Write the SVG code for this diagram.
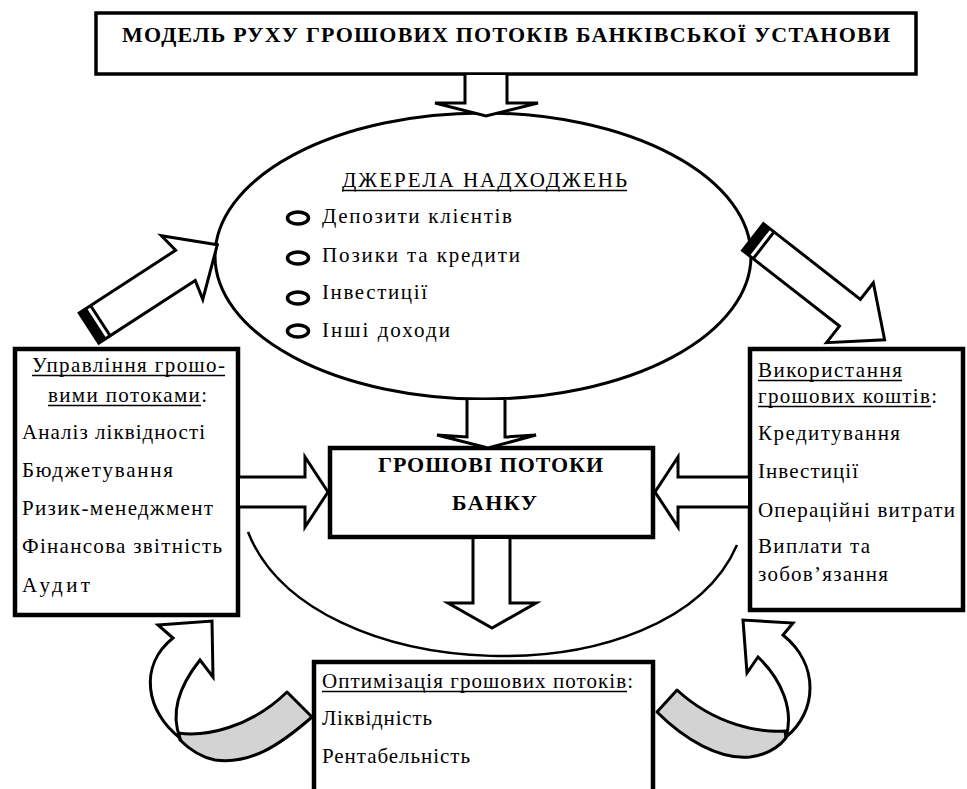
<svg xmlns="http://www.w3.org/2000/svg" width="967" height="789" viewBox="0 0 967 789">
<style>
.box{fill:#fff;stroke:#000;stroke-width:4.5}
.arr{fill:#fff;stroke:#000;stroke-width:3;stroke-linejoin:miter}
.gr{fill:#d3d3d3;stroke:#000;stroke-width:3;stroke-linejoin:round}
.line{fill:none;stroke:#000;stroke-width:2.5}
.ul{fill:none;stroke:#000;stroke-width:1.3}
.t{font-family:"Liberation Serif","Noto Serif","DejaVu Serif","Times New Roman",serif;font-size:21px;fill:#000}
.b{font-weight:bold;font-size:22px}
.bul{fill:none;stroke:#000;stroke-width:3.5}
</style>
<rect width="967" height="789" fill="#fff"/>

<g id="title">
<rect x="96" y="13" width="820" height="61" fill="#fff" stroke="#000" stroke-width="3.5"/>
<text class="t b" x="122" y="42" textLength="768" lengthAdjust="spacing">МОДЕЛЬ РУХУ ГРОШОВИХ ПОТОКІВ БАНКІВСЬКОЇ УСТАНОВИ</text>
</g>

<g id="sources">
<ellipse cx="483" cy="256" rx="268" ry="143" fill="#fff" stroke="#000" stroke-width="3"/>
<text class="t" x="342" y="187" textLength="285" lengthAdjust="spacing">ДЖЕРЕЛА НАДХОДЖЕНЬ</text>
<line class="ul" x1="342" y1="190.5" x2="627" y2="190.5"/>
<ellipse class="bul" cx="298" cy="218" rx="10.5" ry="6"/>
<ellipse class="bul" cx="298" cy="258" rx="10.5" ry="6"/>
<ellipse class="bul" cx="298" cy="298" rx="10.5" ry="6"/>
<ellipse class="bul" cx="298" cy="331" rx="10.5" ry="6"/>
<text class="t" x="322" y="223" textLength="190" lengthAdjust="spacing">Депозити клієнтів</text>
<text class="t" x="322" y="262" textLength="198" lengthAdjust="spacing">Позики та кредити</text>
<text class="t" x="322" y="299" textLength="105" lengthAdjust="spacing">Інвестиції</text>
<text class="t" x="322" y="337" textLength="128" lengthAdjust="spacing">Інші доходи</text>
</g>

<g id="management">
<rect class="box" x="15" y="349" width="223" height="266"/>
<text class="t" x="32" y="372" textLength="193" lengthAdjust="spacing">Управління грошо-</text>
<line class="ul" x1="32" y1="375.5" x2="225" y2="375.5"/>
<text class="t" x="48" y="402" textLength="159" lengthAdjust="spacing">вими потоками:</text>
<line class="ul" x1="48" y1="405.5" x2="201" y2="405.5"/>
<text class="t" x="22" y="439" textLength="183" lengthAdjust="spacing">Аналіз ліквідності</text>
<text class="t" x="22" y="477" textLength="151" lengthAdjust="spacing">Бюджетування</text>
<text class="t" x="22" y="515" textLength="191" lengthAdjust="spacing">Ризик-менеджмент</text>
<text class="t" x="22" y="553" textLength="200" lengthAdjust="spacing">Фінансова звітність</text>
<text class="t" x="22" y="592" textLength="68" lengthAdjust="spacing">Аудит</text>
</g>

<g id="usage">
<rect class="box" x="750" y="349" width="213" height="261"/>
<text class="t" x="758" y="377" textLength="144" lengthAdjust="spacing">Використання</text>
<line class="ul" x1="758" y1="380.5" x2="902" y2="380.5"/>
<text class="t" x="758" y="403" textLength="179" lengthAdjust="spacing">грошових коштів:</text>
<line class="ul" x1="758" y1="406.5" x2="931" y2="406.5"/>
<text class="t" x="758" y="440" textLength="142" lengthAdjust="spacing">Кредитування</text>
<text class="t" x="758" y="478" textLength="100" lengthAdjust="spacing">Інвестиції</text>
<text class="t" x="758" y="517" textLength="197" lengthAdjust="spacing">Операційні витрати</text>
<text class="t" x="758" y="553" textLength="112" lengthAdjust="spacing">Виплати та</text>
<text class="t" x="758" y="581" textLength="130" lengthAdjust="spacing">зобов’язання</text>
</g>

<g id="cashflow">
<rect class="box" x="330" y="448" width="323" height="89"/>
<text class="t b" x="378" y="472" textLength="225" lengthAdjust="spacing">ГРОШОВІ ПОТОКИ</text>
<text class="t b" x="452" y="510" textLength="85" lengthAdjust="spacing">БАНКУ</text>
</g>

<g id="optimization">
<rect class="box" x="314" y="662" width="339" height="140"/>
<text class="t" x="322" y="688" textLength="311" lengthAdjust="spacing">Оптимізація грошових потоків:</text>
<line class="ul" x1="322" y1="691.5" x2="627" y2="691.5"/>
<text class="t" x="322" y="725" textLength="110" lengthAdjust="spacing">Ліквідність</text>
<text class="t" x="322" y="763" textLength="148" lengthAdjust="spacing">Рентабельність</text>
</g>

<g id="connectors">
<path class="line" d="M248,532 C310,690 670,700 737,545"/>
<path class="arr" d="M465,75 L465,103 L435,103 L486,116 L538,103 L507,103 L507,75"/>
<path class="arr" d="M467,400 L467,437 L437,435 L488,448 L536,435 L505,437 L505,400"/>
<path class="arr" d="M473,539 L473,603 L448,603 L492,628 L536,603 L510,603 L510,539"/>
<path class="arr" d="M240,477 L305,477 L305,457 L328,492 L305,527 L305,507 L240,507"/>
<path class="arr" d="M748,477 L678,477 L678,457 L655,492 L678,527 L678,507 L748,507"/>
<g transform="translate(89,328) rotate(-33)">
<path class="arr" d="M0,-18 L115,-18 L111,-38 L153,0 L111,38 L115,18 L0,18 Z"/>
<rect x="0" y="-18" width="9" height="36" fill="#000"/>
<rect x="12" y="-18" width="3" height="36" fill="#000"/>
</g>
<g transform="translate(753,237) rotate(38)">
<path class="arr" d="M0,-17 L123,-17 L123,-38 L167,0 L123,38 L123,17 L0,17 Z"/>
<rect x="0" y="-17" width="9" height="34" fill="#000"/>
<rect x="12" y="-17" width="3" height="34" fill="#000"/>
</g>
<path class="gr" d="M287,692 L312,717 C280,745 250,765 215,760 C200,757 190,750 180,740 L178,733 C205,737 250,728 287,692 Z"/>
<path class="arr" d="M180,738 C146,712 138,666 173,638 L158,625 L212,621 L213,677 L200,660 C180,685 170,712 180,738 Z"/>
<path class="gr" d="M677,690 L657,712 C685,740 720,760 750,757 C765,755 778,748 786,738 L785,731 C760,733 715,725 677,690 Z"/>
<path class="arr" d="M786,737 C817,712 820,665 783,635 L793,623 L743,620 L747,673 L758,657 C782,680 794,710 786,737 Z"/>
</g>
</svg>
